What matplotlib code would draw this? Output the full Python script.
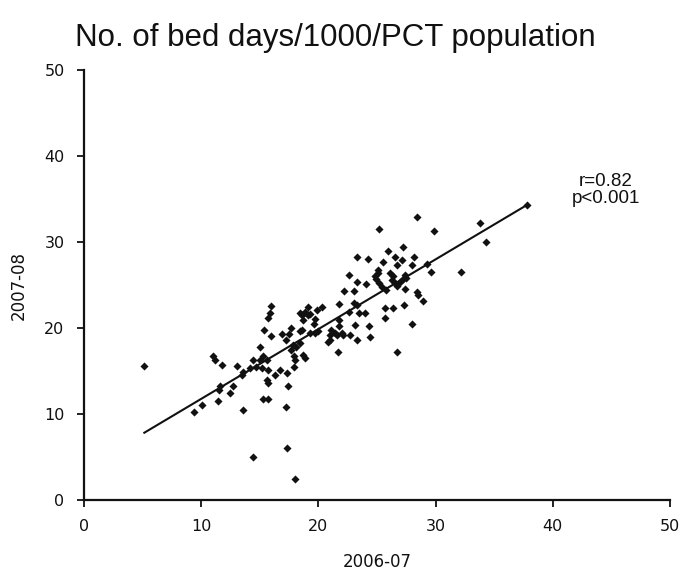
import matplotlib

matplotlib.use("Agg")

import matplotlib.pyplot as plt
import numpy as np


# bed days per 1000 population, one point per PCT
X_0607 = [
    5.15, 11.0, 11.2, 11.8, 13.1, 14.4, 15.0, 15.0, 14.2, 13.6, 13.5, 11.6, 11.5,
    12.7, 12.5, 11.4, 10.1, 9.4, 13.6, 14.4,
    16.0, 15.9, 15.7, 15.4, 16.0, 15.3, 15.6, 14.7, 15.2, 15.7, 16.3, 16.7,
    17.3, 15.6, 15.7, 17.4, 15.3, 15.7, 17.2,
    17.7, 17.5, 16.9, 17.2, 17.8, 17.7, 18.1, 18.4, 18.4, 18.6, 17.9, 18.0,
    18.7, 18.9, 17.9,
    18.4, 18.6, 18.9, 19.1, 19.1, 19.3, 18.7, 19.9, 20.3, 19.7, 19.6, 19.3,
    19.7, 20.0,
    21.8, 23.0, 23.3, 22.6, 23.5, 24.0, 21.8, 21.8, 23.1, 24.3, 21.1, 21.4,
    21.0, 21.6, 22.0, 22.1, 22.7, 23.3, 24.4, 21.0, 20.8, 21.7,
    25.2, 23.3, 24.2, 22.6, 23.3, 24.1, 22.2, 23.0, 25.1, 24.9, 25.2,
    28.4, 29.9, 33.8, 34.3, 25.9, 27.2, 25.5, 26.5, 26.7, 27.1, 28.2, 28.0,
    29.3, 29.6, 32.2, 25.1, 24.8, 26.1, 26.4, 26.3, 27.4, 27.5, 27.2, 25.4,
    25.8, 26.5, 27.0, 26.7, 27.4, 28.4, 28.5, 28.9, 25.7, 26.4, 27.3,
    25.7, 28.0, 26.7, 37.8, 17.3, 18.0,
]
Y_0708 = [
    15.6, 16.7, 16.3, 15.7, 15.6, 16.3, 17.8, 16.3, 15.3, 14.9, 14.5, 13.3, 12.8,
    13.3, 12.5, 11.5, 11.0, 10.2, 10.5, 5.0,
    22.6, 21.8, 21.2, 19.8, 19.1, 16.7, 16.3, 15.5, 15.3, 15.1, 14.5, 15.1,
    14.8, 14.0, 13.6, 13.2, 11.7, 11.7, 10.8,
    20.0, 19.3, 19.3, 18.6, 18.0, 17.4, 17.8, 18.2, 19.6, 19.8, 16.7, 16.3,
    16.9, 16.5, 15.5,
    21.7, 21.5, 21.9, 22.5, 21.5, 21.6, 20.9, 22.1, 22.4, 21.1, 20.5, 19.4,
    19.4, 19.6,
    22.8, 22.9, 22.7, 21.9, 21.7, 21.7, 20.9, 20.2, 20.3, 20.2, 19.8, 19.4,
    19.2, 19.2, 19.4, 19.2, 19.2, 18.6, 19.0, 18.6, 18.4, 17.2,
    31.5, 28.2, 28.0, 26.2, 25.3, 25.1, 24.3, 24.3, 26.7, 25.7, 25.2,
    32.9, 31.3, 32.2, 30.0, 28.9, 29.4, 27.7, 28.2, 27.3, 27.9, 28.3, 27.3,
    27.4, 26.5, 26.5, 26.4, 26.0, 26.4, 26.0, 25.6, 26.2, 25.8, 25.7, 24.8,
    24.4, 25.2, 25.4, 24.9, 24.5, 24.2, 23.8, 23.1, 22.3, 22.3, 22.7,
    21.2, 20.5, 17.2, 34.3, 6.1, 2.4,
]

# regression line
FIT_SLOPE = 0.811
FIT_INTERCEPT = 3.65

TICKS = [0, 10, 20, 30, 40, 50]


def main() -> None:
    x = np.array(X_0607)
    y = np.array(Y_0708)

    fig = plt.figure(figsize=(6.86, 5.77), dpi=100)
    ax = fig.add_axes([0.1224, 0.1334, 0.8542, 0.7453])

    ax.scatter(x, y, marker="D", s=17, color="#111111", linewidths=0, zorder=3)

    line_x = np.array([x.min(), x.max()])
    ax.plot(line_x, FIT_SLOPE * line_x + FIT_INTERCEPT, color="#111111", linewidth=1.5, zorder=2)

    ax.set_xlim(0, 50)
    ax.set_ylim(0, 50)
    ax.set_xticks(TICKS)
    ax.set_yticks(TICKS)
    ax.tick_params(direction="out", length=5, width=1.3, labelsize=11.5,
                   colors="#111111", pad=9)
    for side in ("top", "right"):
        ax.spines[side].set_visible(False)
    for side in ("left", "bottom"):
        ax.spines[side].set_linewidth(1.6)
        ax.spines[side].set_color("#111111")

    ax.set_xlabel("2006-07", fontsize=12, color="#111111", labelpad=13)
    ax.set_ylabel("2007-08", fontsize=12, color="#111111", labelpad=12)

    ax.text(44.5, 36.1, "r=0.82\np<0.001", ha="center", va="center",
            fontsize=13.5, family="Liberation Sans", color="#111111", linespacing=1.0)

    fig.text(0.109, 0.934, "No. of bed days/1000/PCT population", ha="left",
             va="center", fontsize=22.5, family="Liberation Sans", color="#111111")

    fig.savefig("out.png", dpi=100)
    plt.close(fig)


if __name__ == "__main__":
    main()
